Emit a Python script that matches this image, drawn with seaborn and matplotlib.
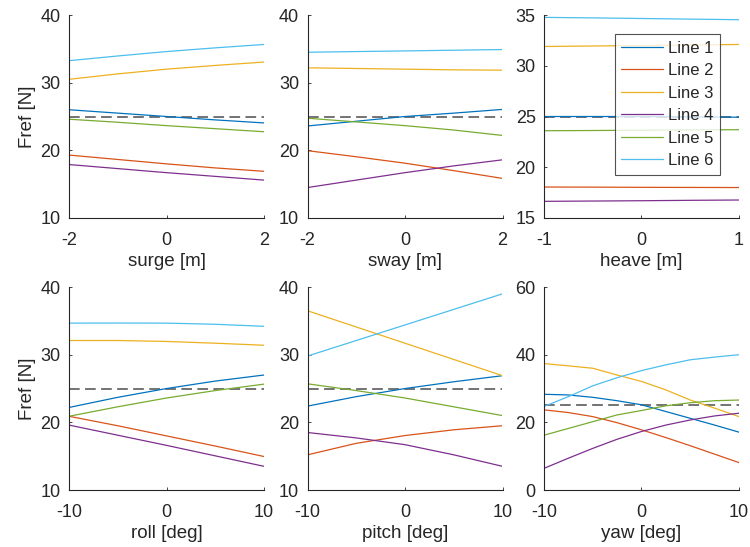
import numpy as np
import pandas as pd
import seaborn as sns
import matplotlib.pyplot as plt

# reference force per line for a sweep of each DOF
line_names = ['Line 1', 'Line 2', 'Line 3', 'Line 4', 'Line 5', 'Line 6']
line_colors = ['#0072BD', '#D95319', '#EDB120', '#7E2F8E', '#77AC30', '#4DBEEE']
f_ref = 25

surge_x = [-2, -1, 0, 1, 2]
surge = [[26.0, 25.5, 25.0, 24.5, 24.05],
         [19.3, 18.65, 18.0, 17.4, 16.9],
         [30.5, 31.3, 32.0, 32.55, 33.05],
         [17.9, 17.3, 16.7, 16.15, 15.6],
         [24.6, 24.15, 23.65, 23.2, 22.75],
         [33.25, 33.95, 34.6, 35.15, 35.65]]

sway_x = [-2, -1, 0, 1, 2]
sway = [[23.6, 24.3, 25.0, 25.5, 26.05],
        [19.95, 19.05, 18.1, 17.0, 15.85],
        [32.2, 32.1, 32.0, 31.9, 31.85],
        [14.5, 15.6, 16.7, 17.7, 18.6],
        [24.75, 24.2, 23.65, 23.0, 22.2],
        [34.5, 34.6, 34.7, 34.8, 34.9]]

heave_x = [-1, -0.5, 0, 0.5, 1]
heave = [[25.0, 25.0, 25.0, 24.97, 24.93],
         [18.05, 18.04, 18.02, 18.01, 18.0],
         [31.9, 31.95, 32.0, 32.05, 32.1],
         [16.64, 16.67, 16.7, 16.74, 16.77],
         [23.6, 23.62, 23.65, 23.68, 23.7],
         [34.77, 34.72, 34.66, 34.6, 34.54]]

roll_x = [-10, -5, 0, 5, 10]
roll = [[22.2, 23.7, 25.0, 26.1, 27.0],
        [20.9, 19.5, 18.0, 16.5, 14.95],
        [32.1, 32.1, 31.96, 31.7, 31.4],
        [19.6, 18.1, 16.6, 15.05, 13.5],
        [20.9, 22.3, 23.6, 24.7, 25.65],
        [34.67, 34.68, 34.67, 34.5, 34.2]]

pitch_x = [-10, -5, 0, 5, 10]
pitch = [[22.4, 23.8, 25.0, 26.0, 26.9],
         [15.2, 16.9, 18.05, 18.9, 19.5],
         [36.5, 34.1, 31.7, 29.3, 26.9],
         [18.5, 17.7, 16.7, 15.2, 13.5],
         [25.7, 24.7, 23.6, 22.3, 21.0],
         [29.8, 32.1, 34.4, 36.7, 39.0]]

yaw_x = [-10, -7.5, -5, -2.5, 0, 2.5, 5, 7.5, 10]
yaw = [[28.3, 28.1, 27.4, 26.4, 25.2, 23.2, 21.2, 19.2, 17.1],
       [23.7, 22.9, 21.7, 19.9, 17.8, 15.5, 13.1, 10.6, 8.1],
       [37.4, 36.7, 36.0, 34.0, 32.1, 29.6, 26.6, 24.2, 21.7],
       [6.4, 9.4, 12.3, 15.0, 17.3, 19.2, 20.7, 21.9, 22.7],
       [16.2, 18.2, 20.2, 22.2, 23.5, 24.9, 25.8, 26.4, 26.6],
       [24.7, 27.6, 30.8, 33.2, 35.3, 37.0, 38.5, 39.3, 40.0]]

panels = [
    ('surge [m]', surge_x, surge, [10, 20, 30, 40], [-2, 0, 2]),
    ('sway [m]', sway_x, sway, [10, 20, 30, 40], [-2, 0, 2]),
    ('heave [m]', heave_x, heave, [15, 20, 25, 30, 35], [-1, 0, 1]),
    ('roll [deg]', roll_x, roll, [10, 20, 30, 40], [-10, 0, 10]),
    ('pitch [deg]', pitch_x, pitch, [10, 20, 30, 40], [-10, 0, 10]),
    ('yaw [deg]', yaw_x, yaw, [0, 20, 40, 60], [-10, 0, 10]),
]

sns.set_style('white')
plt.rcParams['font.family'] = ['Liberation Sans', 'DejaVu Sans']
plt.rcParams['axes.edgecolor'] = '#262626'
plt.rcParams['xtick.color'] = '#262626'
plt.rcParams['ytick.color'] = '#262626'
plt.rcParams['text.color'] = '#262626'
plt.rcParams['axes.labelcolor'] = '#262626'

fig = plt.figure(figsize=(7.5, 5.47), dpi=100)
lefts = [0.092, 0.410, 0.7253]
bottoms = [0.6015, 0.1042]

for i, (xlabel, xs, ys, yt, xt) in enumerate(panels):
    r, c = divmod(i, 3)
    ax = fig.add_axes([lefts[c], bottoms[r], 0.26, 0.371])
    df = pd.DataFrame({
        'x': np.tile(xs, len(line_names)),
        'Fref': np.concatenate(ys),
        'line': np.repeat(line_names, len(xs)),
    })
    sns.lineplot(data=df, x='x', y='Fref', hue='line', palette=line_colors,
                 linewidth=0.9, ax=ax, legend=(i == 2))
    ax.axhline(f_ref, color='#4d4d4d', ls=(0, (7, 3.5)), lw=1.1, zorder=1)
    ax.set_xlim(xt[0], xt[-1])
    ax.set_ylim(yt[0], yt[-1])
    ax.set_xticks(xt)
    ax.set_yticks(yt)
    ax.set_xticklabels([str(v) for v in xt])
    ax.tick_params(direction='in', length=2.5, width=0.6, labelsize=13,
                   bottom=True, left=True)
    ax.tick_params(axis='x', pad=10)
    ax.tick_params(axis='y', pad=6)
    for s in ['top', 'right']:
        ax.spines[s].set_visible(False)
    for s in ['left', 'bottom']:
        ax.spines[s].set_linewidth(0.8)
    ax.set_xlabel(xlabel, fontsize=13.5, labelpad=3)
    ax.set_ylabel('Fref [N]' if c == 0 else '', fontsize=13.5, labelpad=3)
    if i == 2:
        leg = ax.legend(loc='upper right', bbox_to_anchor=(0.903, 0.906),
                        borderaxespad=0, fontsize=12, frameon=True,
                        fancybox=False, handlelength=2.5, handletextpad=0.3,
                        labelspacing=0.45, title=None)
        leg.get_frame().set_edgecolor('#262626')
        leg.get_frame().set_linewidth(0.8)

fig.savefig('out.png', dpi=100)
